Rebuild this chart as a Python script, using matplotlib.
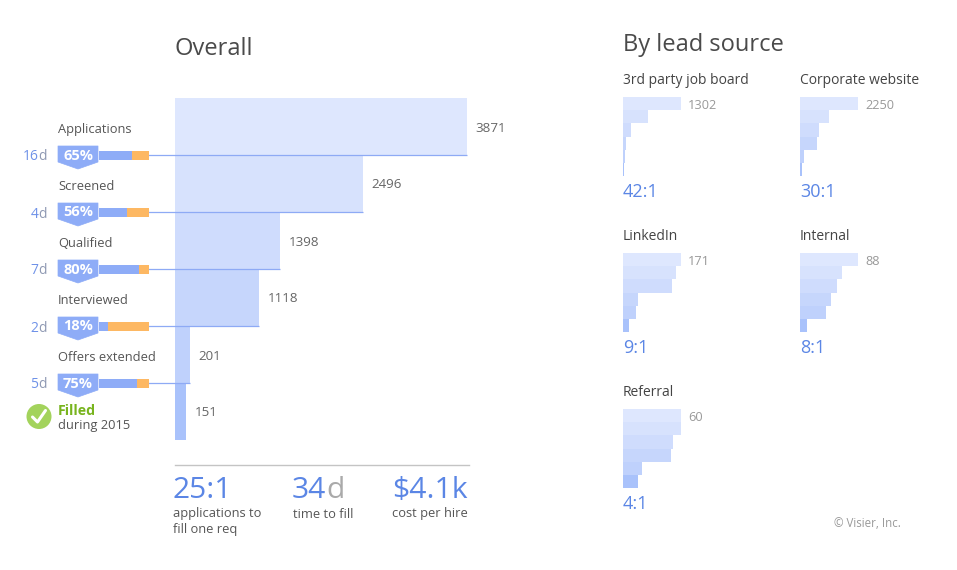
import numpy as np
import matplotlib.pyplot as plt
from matplotlib.patches import Polygon, Circle

plt.rcParams['font.family'] = ['Open Sans', 'DejaVu Sans']

W, H = 957, 570

# overall funnel
stages = ["Applications", "Screened", "Qualified", "Interviewed", "Offers extended", "Filled"]
overall = [3871, 2496, 1398, 1118, 201, 151]
conversion = [65, 56, 80, 18, 75]
days = [16, 4, 7, 2, 5]
fill_year = 2015
time_to_fill = 34
cost_per_hire = "$4.1k"

# by lead source (same six stages)
sources = ["3rd party job board", "Corporate website", "LinkedIn", "Internal", "Referral"]
third_party = [1302, 561, 180, 67, 45, 31]
corporate = [2250, 1125, 737, 660, 155, 75]
linkedin = [171, 156, 144, 44, 38, 19]
internal = [88, 64, 56, 47, 39, 11]
referral = [60, 60, 52, 50, 20, 15]
source_vals = [third_party, corporate, linkedin, internal, referral]

shades = ["#dee7fe", "#d7e2fd", "#cfdcfd", "#c6d6fc", "#bfd1fc", "#a9c2fb"]
blue = "#8eacf7"
orange = "#fdb863"
line_c = "#8eaaf5"
kpi_blue = "#5b86e5"
grey_txt = "#555555"
val_txt = "#666666"


def box(x0, y0, x1, y1):
    return [x0 / W, 1 - y1 / H, (x1 - x0) / W, (y1 - y0) / H]


fig = plt.figure(figsize=(W / 100, H / 100), dpi=100, facecolor="white")
bg = fig.add_axes([0, 0, 1, 1])
bg.set_xlim(0, W)
bg.set_ylim(H, 0)
bg.set_axis_off()
bg.patch.set_alpha(0)

# ---- funnel
fx0, fx1, fy0, fy1 = 175, 467, 98, 440
row = (fy1 - fy0) / 6
axf = fig.add_axes(box(fx0, fy0, fx1, fy1))
axf.set_xlim(0, overall[0])
axf.set_ylim(6, 0)
axf.set_axis_off()
axf.barh(np.arange(6), overall, height=1, align="edge", color=shades, linewidth=0)
lead = -overall[0] * (fx0 - 148) / (fx1 - fx0)
for i in range(5):
    axf.plot([lead, overall[i]], [i + 1, i + 1], color=line_c, lw=0.9,
             clip_on=False, solid_capstyle="butt", zorder=3)
for i, v in enumerate(overall):
    axf.annotate(str(v), (v, i + 0.5), xytext=(8, 0), textcoords="offset pixels",
                 va="center_baseline", ha="left", fontsize=9.6, color=val_txt)

# ---- conversion mini bars
axc = fig.add_axes(box(99, fy0, 149, fy1))
axc.set_xlim(0, 100)
axc.set_ylim(6, 0)
axc.set_axis_off()
yy = np.arange(1, 6)
conv = np.array(conversion)
axc.barh(yy, conv, height=9 / row, color=blue, linewidth=0, zorder=4)
axc.barh(yy, 100 - conv, left=conv, height=9 / row, color=orange, linewidth=0, zorder=4)

fig.canvas.draw()
rend = fig.canvas.get_renderer()

for i in range(5):
    b = fy0 + row * (i + 1)
    bg.text(58, b - 27, stages[i], va="center_baseline", ha="left", fontsize=9.3, color=grey_txt)
    bg.add_patch(Polygon([(58, b - 9), (98, b - 9), (98, b + 7), (78, b + 14), (58, b + 7)],
                         closed=True, facecolor=blue, edgecolor=blue, lw=0.5, joinstyle="round"))
    bg.text(78, b - 1, f"{conversion[i]}%", va="center_baseline", ha="center", fontsize=10.5,
            color="white", fontweight="bold")
    td = bg.text(47, b, "d", va="center_baseline", ha="right", fontsize=10, color="#8f99b3")
    wd = td.get_window_extent(rend).width
    bg.text(47 - wd, b, str(days[i]), va="center_baseline", ha="right", fontsize=10,
            color="#6f92e8")

# filled
bg.add_patch(Circle((39, 416.5), 12.5, color="#a3d35c", lw=0))
bg.plot([32.5, 37.5, 45.5], [417, 422, 410.5], color="white", lw=2.2,
        solid_capstyle="round", solid_joinstyle="round")
bg.text(58, 409.5, stages[5], va="center_baseline", ha="left", fontsize=10.2, color="#78b41e",
        fontweight="bold")
bg.text(58, 424, f"during {fill_year}", va="center_baseline", ha="left", fontsize=9.3,
        color=grey_txt)

# titles
bg.text(175, 46, "Overall", va="center_baseline", ha="left", fontsize=17, color="#4a4a4a")
bg.text(623, 42, "By lead source", va="center_baseline", ha="left", fontsize=17,
        color="#4a4a4a")

# KPIs
bg.plot([175, 469], [464.5, 464.5], color="#c4c4c4", lw=1)
bg.text(172, 498, f"{int(overall[0] / overall[-1])}:1", va="baseline", ha="left",
        fontsize=21.6, color=kpi_blue)
bg.text(173, 512.5, "applications to", va="center_baseline", ha="left", fontsize=9.3,
        color=grey_txt)
bg.text(173, 528, "fill one req", va="center_baseline", ha="left", fontsize=9.3, color=grey_txt)
tn = bg.text(292, 498, str(time_to_fill), va="baseline", ha="left", fontsize=21.6,
             color=kpi_blue)
wn = tn.get_window_extent(rend).width
bg.text(292 + wn, 498, "d", va="baseline", ha="left", fontsize=21.6, color="#aaaaaa")
bg.text(293, 512.5, "time to fill", va="center_baseline", ha="left", fontsize=9.3,
        color=grey_txt)
bg.text(392, 498, cost_per_hire, va="baseline", ha="left", fontsize=21.6, color=kpi_blue)
bg.text(392, 512.5, "cost per hire", va="center_baseline", ha="left", fontsize=9.3,
        color=grey_txt)

# ---- small multiples
panel_pos = [(623, 97), (800, 97), (623, 253), (800, 253), (623, 409)]
pw, ph = 58, 79
for name, vals, (px, py) in zip(sources, source_vals, panel_pos):
    ax = fig.add_axes(box(px, py, px + pw, py + ph))
    ax.set_xlim(0, max(vals))
    ax.set_ylim(6, 0)
    ax.set_axis_off()
    ax.barh(np.arange(6), vals, height=1, align="edge", color=shades, linewidth=0)
    ax.annotate(str(vals[0]), (vals[0], 0.5), xytext=(7, 0), textcoords="offset pixels",
                va="center_baseline", ha="left", fontsize=9.2, color="#999999")
    bg.text(px, py - 19, name, va="center_baseline", ha="left", fontsize=10, color="#444444")
    bg.text(px, py + ph + 14, f"{int(vals[0] / vals[-1])}:1", va="center_baseline",
            ha="left", fontsize=13, color=kpi_blue)

bg.text(901, 522, "\u00a9 Visier, Inc.", va="center_baseline", ha="right", fontsize=8.3,
        color="#999999")

fig.savefig("out.png", dpi=100, facecolor="white")
